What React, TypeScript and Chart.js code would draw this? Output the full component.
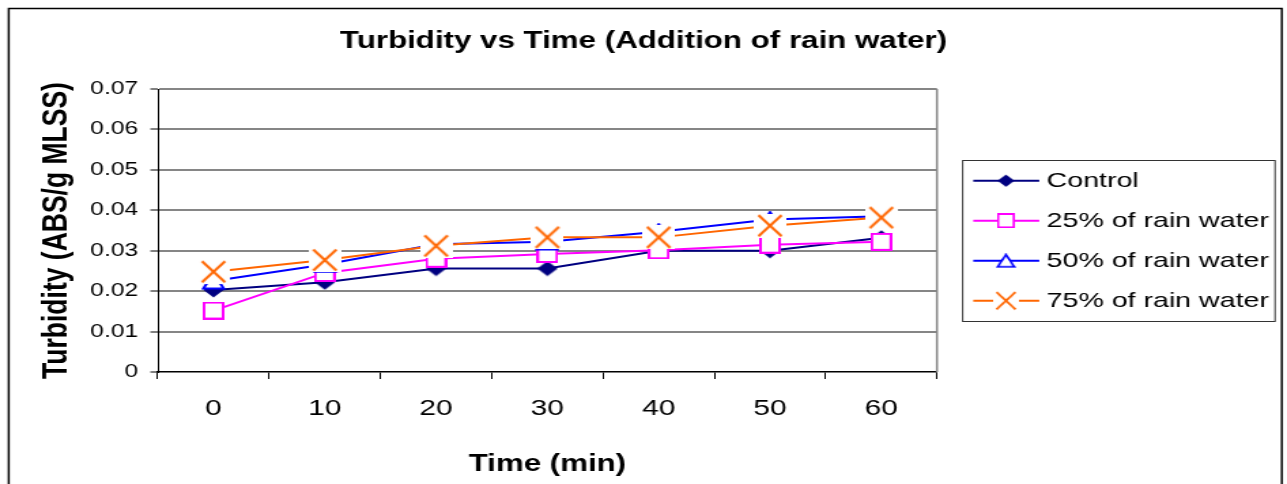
import React, { useEffect, useRef } from 'react';
import { Chart, registerables } from 'chart.js';

Chart.register(...registerables);

// ---------- data ----------
const categories = ['0', '10', '20', '30', '40', '50', '60'];
const seriesNames = ['Control', '25% of rain water', '50% of rain water', '75% of rain water'];
const controlValues = [0.0203, 0.0222, 0.0256, 0.0256, 0.0300, 0.0300, 0.0332];
const rain25Values = [0.0152, 0.0245, 0.0280, 0.0292, 0.0301, 0.0315, 0.0322];
const rain50Values = [0.0225, 0.0266, 0.0316, 0.0322, 0.0347, 0.0377, 0.0385];
const rain75Values = [0.0248, 0.0277, 0.0312, 0.0333, 0.0333, 0.0362, 0.0382];
const yMin = 0;
const yMax = 0.07;
const yStep = 0.01;
const chartTitle = 'Turbidity vs Time (Addition of rain water)';
const xTitle = 'Time (min)';
const yTitle = 'Turbidity (ABS/g MLSS)';

// ---------- styling / layout ----------
const CW = 946;
const CH = 484;
const STRETCH = 1287 / CW;
const FONT = "'Liberation Sans', Arial, Helvetica, sans-serif";
const NAVY = '#000080';
const MAGENTA = '#FF00FF';
const BLUE = '#0000FF';
const ORANGE = '#FF6600';
const GRID = '#868686';

function makeCanvas(w: number, h: number, draw: (g: CanvasRenderingContext2D) => void) {
  const c = document.createElement('canvas');
  c.width = w;
  c.height = h;
  const g = c.getContext('2d') as CanvasRenderingContext2D;
  draw(g);
  return c;
}

function makeMarkers() {
  const diamond = makeCanvas(16, 16, (g) => {
    g.fillStyle = NAVY;
    g.beginPath();
    g.moveTo(8, 0.5);
    g.lineTo(15.5, 8);
    g.lineTo(8, 15.5);
    g.lineTo(0.5, 8);
    g.closePath();
    g.fill();
  });
  const square = makeCanvas(16, 18, (g) => {
    g.fillStyle = '#fff';
    g.fillRect(1, 1, 14, 16);
    g.strokeStyle = MAGENTA;
    g.lineWidth = 2;
    g.strokeRect(1, 1, 14, 16);
  });
  const triangle = makeCanvas(18, 18, (g) => {
    g.fillStyle = '#fff';
    g.strokeStyle = BLUE;
    g.lineWidth = 2;
    g.beginPath();
    g.moveTo(9, 1.5);
    g.lineTo(16.5, 16.5);
    g.lineTo(1.5, 16.5);
    g.closePath();
    g.fill();
    g.stroke();
  });
  const cross = makeCanvas(24, 24, (g) => {
    g.fillStyle = '#fff';
    g.fillRect(0, 0, 24, 24);
    g.strokeStyle = ORANGE;
    g.lineWidth = 2;
    g.beginPath();
    g.moveTo(3.5, 1.5);
    g.lineTo(20.5, 22.5);
    g.moveTo(20.5, 1.5);
    g.lineTo(3.5, 22.5);
    g.stroke();
  });
  return [diamond, square, triangle, cross];
}

export default function App() {
  const ref = useRef<HTMLCanvasElement>(null);

  useEffect(() => {
    if (!ref.current) return;
    document.body.style.overflow = 'hidden';
    const markers = makeMarkers();
    const colors = [NAVY, MAGENTA, BLUE, ORANGE];
    const values = [controlValues, rain25Values, rain50Values, rain75Values];

    const decor = {
      id: 'decor',
      beforeDraw(chart: any) {
        const ctx = chart.ctx;
        ctx.save();
        ctx.fillStyle = '#fff';
        ctx.fillRect(0, 0, chart.width, chart.height);
        ctx.strokeStyle = '#000';
        ctx.lineWidth = 1.5;
        ctx.strokeRect(6.4, 8.5, 942.2 - 6.4, 500);
        ctx.restore();
      },
      beforeDatasetsDraw(chart: any) {
        const { ctx, chartArea } = chart;
        ctx.save();
        ctx.strokeStyle = GRID;
        ctx.lineWidth = 1.5;
        ctx.beginPath();
        ctx.moveTo(chartArea.right, chartArea.top);
        ctx.lineTo(chartArea.right, chartArea.bottom);
        ctx.stroke();
        ctx.restore();
      },
      afterDraw(chart: any) {
        const ctx = chart.ctx;
        const bx = 707.6, by = 160, bw = 937.2 - 707.6, bh = 161;
        ctx.save();
        ctx.fillStyle = '#fff';
        ctx.fillRect(bx, by, bw, bh);
        ctx.strokeStyle = '#333';
        ctx.lineWidth = 1;
        ctx.strokeRect(bx, by + 0.5, bw, bh);
        const k = 0.82;
        seriesNames.forEach((name, i) => {
          const y = by + 20.7 + i * 40;
          ctx.strokeStyle = colors[i];
          ctx.lineWidth = 2;
          ctx.beginPath();
          ctx.moveTo(715.4, y);
          ctx.lineTo(763.9, y);
          ctx.stroke();
          const m = markers[i];
          const w = m.width * k, h = m.height * k;
          ctx.drawImage(m, 739.4 - w / 2, y - h / 2, w, h);
          ctx.fillStyle = '#000';
          ctx.font = `21px ${FONT}`;
          ctx.textBaseline = 'middle';
          ctx.textAlign = 'left';
          ctx.fillText(name, 769.3, y + 1);
        });
        ctx.restore();
      },
    };

    const chart = new Chart(ref.current, {
      type: 'line',
      data: {
        labels: categories,
        datasets: seriesNames.map((name, i) => ({
          label: name,
          data: values[i],
          borderColor: colors[i],
          backgroundColor: colors[i],
          borderWidth: 2,
          pointStyle: markers[i] as any,
          pointRadius: 8,
          pointHoverRadius: 8,
          tension: 0,
          order: 3 - i,
          yAxisID: 'y',
        })),
      },
      options: {
        responsive: false,
        maintainAspectRatio: false,
        animation: false,
        events: [],
        layout: { padding: 0 },
        plugins: {
          legend: { display: false },
          tooltip: { enabled: false },
          title: {
            display: true,
            text: chartTitle,
            color: '#000',
            font: { family: FONT, size: 23, weight: 'bold' },
            padding: { top: 28.2, bottom: 33.2 },
          },
        },
        scales: {
          x: {
            type: 'category',
            offset: true,
            grid: {
              offset: true,
              drawOnChartArea: false,
              drawTicks: true,
              tickLength: 7,
              color: '#000',
              lineWidth: 1,
            },
            border: { display: true, color: '#000', width: 1.5 },
            ticks: {
              color: '#000',
              font: { family: FONT, size: 22 },
              padding: 16.3,
              maxRotation: 0,
              autoSkip: false,
            },
            title: {
              display: true,
              text: xTitle,
              color: '#000',
              font: { family: FONT, size: 23, weight: 'bold' },
              padding: { top: 0, bottom: 6 },
            },
            afterFit: (s: any) => {
              s.height = 112;
            },
          },
          y: {
            type: 'linear',
            position: 'left',
            min: yMin,
            max: yMax,
            ticks: {
              stepSize: yStep,
              color: '#000',
              font: { family: FONT, size: 18 },
              padding: 9.1,
              callback: (v: any) => (Number(v) === 0 ? '0' : Number(v).toFixed(2)),
            },
            grid: {
              color: (c: any) => (c.tick && Math.abs(c.tick.value) < 1e-9 ? 'rgba(0,0,0,0)' : GRID),
              lineWidth: 2,
              tickLength: 5.5,
              tickColor: '#000',
              tickWidth: 1,
            },
            border: { display: true, color: '#000', width: 1 },
            title: {
              display: true,
              text: yTitle,
              color: '#000',
              font: { family: FONT, size: 26.5, weight: 'bold' },
              padding: { top: 26, bottom: 0 },
            },
            afterFit: (s: any) => {
              s.width = 116;
            },
          },
          yR: {
            type: 'linear',
            position: 'right',
            min: 0,
            max: 1,
            display: true,
            grid: { display: false, drawOnChartArea: false, drawTicks: false },
            ticks: { display: false },
            border: { display: false },
            afterFit: (s: any) => {
              s.width = CW - 688.7;
            },
          },
        },
      } as any,
      plugins: [decor],
    });
    return () => chart.destroy();
  }, []);

  return (
    <div
      style={{
        position: 'absolute',
        left: 0,
        top: 0,
        width: CW,
        height: CH,
        transform: `scaleX(${STRETCH})`,
        transformOrigin: '0 0',
      }}
    >
      <canvas ref={ref} width={CW} height={CH} style={{ display: 'block', width: CW, height: CH }} />
    </div>
  );
}
